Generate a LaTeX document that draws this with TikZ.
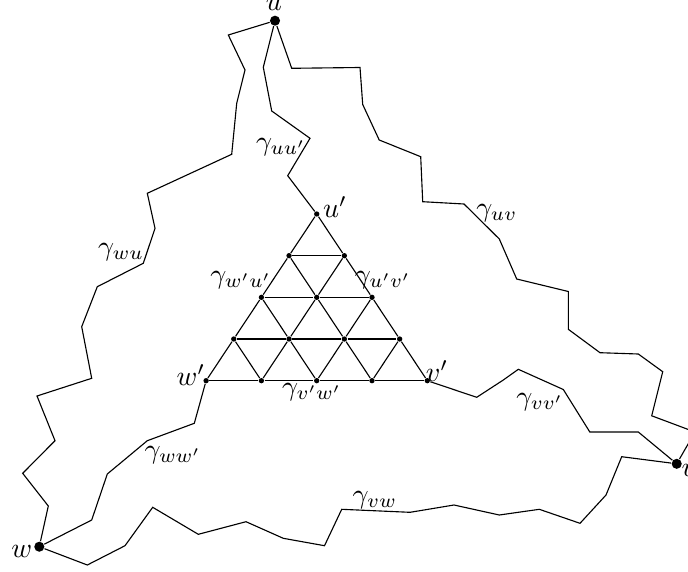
\documentclass[tikz,border=0pt]{standalone}
\begin{document}
\begin{tikzpicture}[x=0.357pt,y=-0.357pt,
  bigdot/.style={circle,fill=black,inner sep=0pt,minimum size=3.6pt},
  smalldot/.style={circle,fill=black,inner sep=0pt,minimum size=1.9pt},
  lbl/.style={inner sep=0pt},
  path/.style={line width=0.4pt,line join=miter},
  grid/.style={line width=0.4pt}]
\useasboundingbox (0,0) rectangle (688,571);
% main vertices
\node[bigdot] (u) at (275,20.7) {};
\node[bigdot] (v) at (676.7,463.8) {};
\node[bigdot] (w) at (39.3,546.7) {};
\node[lbl] (lu) at (274,4) {$u$};
\node[lbl,anchor=west] (lv) at (681,470) {$v$};
\node[lbl] (lw) at (21.7,551) {$w$};
% triangular grid
\foreach \r in {0,...,4}{
  \foreach \c in {0,...,\r}{
    \node[smalldot] (t-\r-\c) at ({316.7+(\c-\r/2)*55.3},{214+\r*41.67}) {};
  }
}
\foreach \r in {0,...,3}{
  \pgfmathtruncatemacro{\rn}{\r+1}
  \foreach \c in {0,...,\r}{
    \pgfmathtruncatemacro{\cn}{\c+1}
    \draw[grid] (t-\r-\c) -- (t-\rn-\c);
    \draw[grid] (t-\r-\c) -- (t-\rn-\cn);
  }
}
\foreach \r in {1,...,4}{
  \pgfmathtruncatemacro{\rm}{\r-1}
  \foreach \c in {0,...,\rm}{
    \pgfmathtruncatemacro{\cn}{\c+1}
    \draw[grid] (t-\r-\c) -- (t-\r-\cn);
  }
}
\node[lbl] (lup) at (335,207) {$u'$};
\node[lbl] (lvp) at (437,371) {$v'$};
\node[lbl] (lwp) at (191,375) {$w'$};
% paths
\draw[path] (u) -- (263.3,67.3) -- (271.7,111) -- (310,138.3) -- (287.7,175.7) -- (t-0-0);
\draw[path] (u) -- (291.7,68.3) -- (360,67.5) -- (362.7,104.5) -- (379.2,140) -- (420.7,156.7)
  -- (422.7,201.7) -- (464,204) -- (499.3,239) -- (516.7,279) -- (568.3,291.5) -- (568.3,329.3)
  -- (600,352.7) -- (638.3,354) -- (662.7,371.7) -- (651.7,415.8) -- (695,432) -- (v);
\draw[path] (t-4-4) -- (476.7,397.3) -- (503.3,380) -- (518.3,369.3) -- (563.3,389.5)
  -- (589.8,432) -- (638.3,432) -- (v);
\draw[path] (v) -- (621.7,456.7) -- (606,495) -- (580,523.3) -- (539.3,509.3) -- (499.3,515)
  -- (454,505) -- (410,512.3) -- (341.7,509.3) -- (324.5,545.7) -- (283.3,538.3) -- (246,521.7)
  -- (198.3,534.3) -- (152.7,507.3) -- (125,545.7) -- (87.3,565) -- (w);
\draw[path] (t-4-0) -- (194.3,423.3) -- (147.3,440.7) -- (107.3,474) -- (91.7,520) -- (w);
\draw[path] (w) -- (48.3,506) -- (22.7,473.3) -- (55,440.7) -- (37,396) -- (91.7,378.3)
  -- (81.7,326.7) -- (97.3,286.7) -- (143.3,263.3) -- (155,228.3) -- (147.3,193.3)
  -- (231.7,154.3) -- (236.7,103.3) -- (245,70) -- (228.3,35) -- (u);
% path labels
\node[lbl] (guu) at (281,147) {$\gamma_{uu'}$};
\node[lbl] (guv) at (497,213) {$\gamma_{uv}$};
\node[lbl] (gvv) at (540,402) {$\gamma_{vv'}$};
\node[lbl] (gvw) at (375,500) {$\gamma_{vw}$};
\node[lbl] (gww) at (173,455) {$\gamma_{ww'}$};
\node[lbl] (gwu) at (121,252) {$\gamma_{wu}$};
\node[lbl] (gwpup) at (241,280) {$\gamma_{w'u'}$};
\node[lbl] (gupvp) at (383,280) {$\gamma_{u'v'}$};
\node[lbl] (gvpwp) at (312,392) {$\gamma_{v'w'}$};
\end{tikzpicture}
\end{document}
